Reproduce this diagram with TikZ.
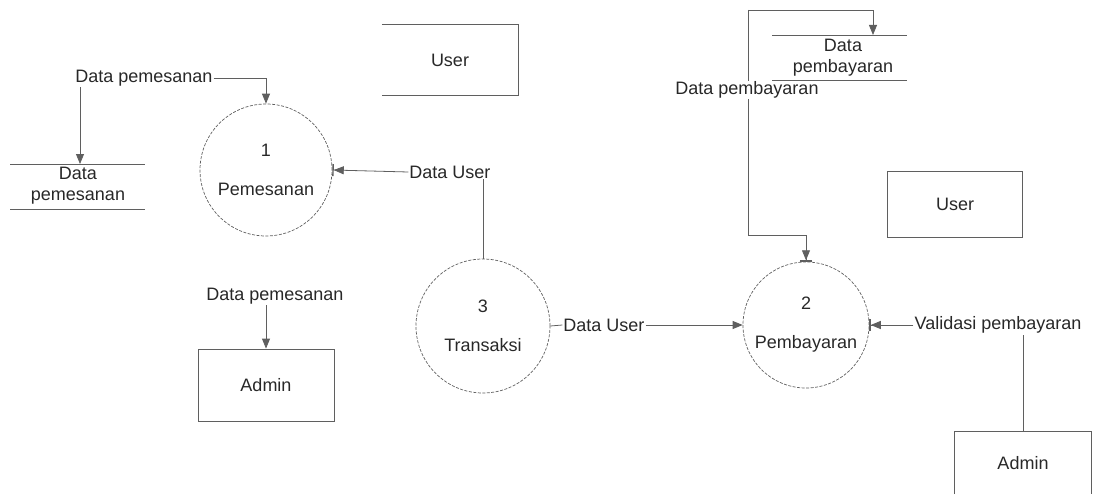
\documentclass[tikz,border=0pt]{standalone}
\usepackage{fontspec}
\setmainfont{Liberation Sans}
\usetikzlibrary{arrows.meta,calc}
\definecolor{ln}{RGB}{95,95,95}
\definecolor{tx}{RGB}{40,40,40}
\begin{document}
\begin{tikzpicture}[x=1pt,y=-1pt,
  every node/.style={font=\fontsize{18}{21}\selectfont, text=tx},
  proc/.style={circle, draw=ln, line width=0.7pt, dash pattern=on 3pt off 1.5pt, align=center, inner sep=0pt},
  ent/.style={rectangle, draw=ln, line width=0.8pt, align=center, inner sep=0pt},
  lbl/.style={inner sep=1pt, fill=white},
  flow/.style={draw=ln, line width=0.8pt},
  tri/.style={flow, -{Triangle[length=10pt,width=8pt]}},
  tribar/.style={flow, -{Triangle[length=10pt,width=8pt]Bar[width=12pt,line width=1.4pt]}},
  storeline/.style={draw=ln, line width=0.8pt}
]
\useasboundingbox (0,0) rectangle (1096,495);

% processes
\node[proc, minimum size=132pt] (c1) at (266,170) {1\\[18pt]Pemesanan};
\node[proc, minimum size=134pt] (c3) at (483,326) {3\\[18pt]Transaksi};
\node[proc, minimum size=126pt] (c2) at (806,325) {2\\[18pt]Pembayaran};

% entities
\node[minimum width=136pt, minimum height=70pt, inner sep=0pt] (userT) at (450,60) {User};
\draw[ln, line width=0.8pt] (userT.north west) -- (userT.north east) -- (userT.south east) -- (userT.south west);
\node[ent, minimum width=135pt, minimum height=66pt] (userR) at (955,204) {User};
\node[ent, minimum width=136pt, minimum height=72pt] (adminL) at (266,385) {Admin};
\node[minimum width=136pt, minimum height=62pt, inner sep=0pt] (adminR) at (1023,463) {Admin};
\draw[ln, line width=0.8pt] (adminR.south west) -- (adminR.north west) -- (adminR.north east) -- (adminR.south east);

% data stores
\node[align=center, inner sep=0pt] (storeL) at (78,186) {Data\\pemesanan};
\coordinate (sLtl) at (10,164);
\coordinate (sLtr) at (145,164);
\coordinate (sLbl) at (10,209);
\coordinate (sLbr) at (145,209);
\draw[storeline] (sLtl) -- (sLtr);
\draw[storeline] (sLbl) -- (sLbr);
\coordinate (storeLin) at (80,164);

\node[align=center, inner sep=0pt] (storeT) at (843,58) {Data\\pembayaran};
\coordinate (sTtl) at (772,35);
\coordinate (sTtr) at (907,35);
\coordinate (sTbl) at (772,80);
\coordinate (sTbr) at (907,80);
\draw[storeline] (sTtl) -- (sTtr);
\draw[storeline] (sTbl) -- (sTbr);
\coordinate (storeTin) at (873,35);

% labels
\node[lbl] (lp1) at (144,78) {Data pemesanan};
\node[lbl] (lu1) at (450,172) {Data User};
\node[lbl] (lu2) at (604,325) {Data User};
\node[lbl] (lv) at (998,325) {Validasi pembayaran};
\node[lbl] (lp2) at (275,296) {Data pemesanan};
\coordinate (topL) at (748,10);
\coordinate (bendC2) at (806,235);

% connectors
\draw[tri] (lp1.east) -| (c1.north);
\draw[tri] (lp1.south -| storeLin) -- (storeLin);
\draw[tribar] (lu1.west) -- (c1.east);
\draw[flow] (c3.north |- lu1.south) -- (c3.north);
\draw[flow] (c3.east) -- (lu2.west);
\draw[tri] (lu2.east) -- (c2.west);
\draw[tribar] (lv.west) -- (c2.east);
\draw[flow] (adminR.north) -- (adminR.north |- lv.south);
\draw[tri] (adminL.north |- lp2.south) -- (adminL.north);
\draw[tri] (topL) -| (storeTin);
\draw[tribar] (topL) |- (bendC2) -- (c2.north);
\node[lbl] (lpb) at (747,90) {Data pembayaran};
\end{tikzpicture}
\end{document}
